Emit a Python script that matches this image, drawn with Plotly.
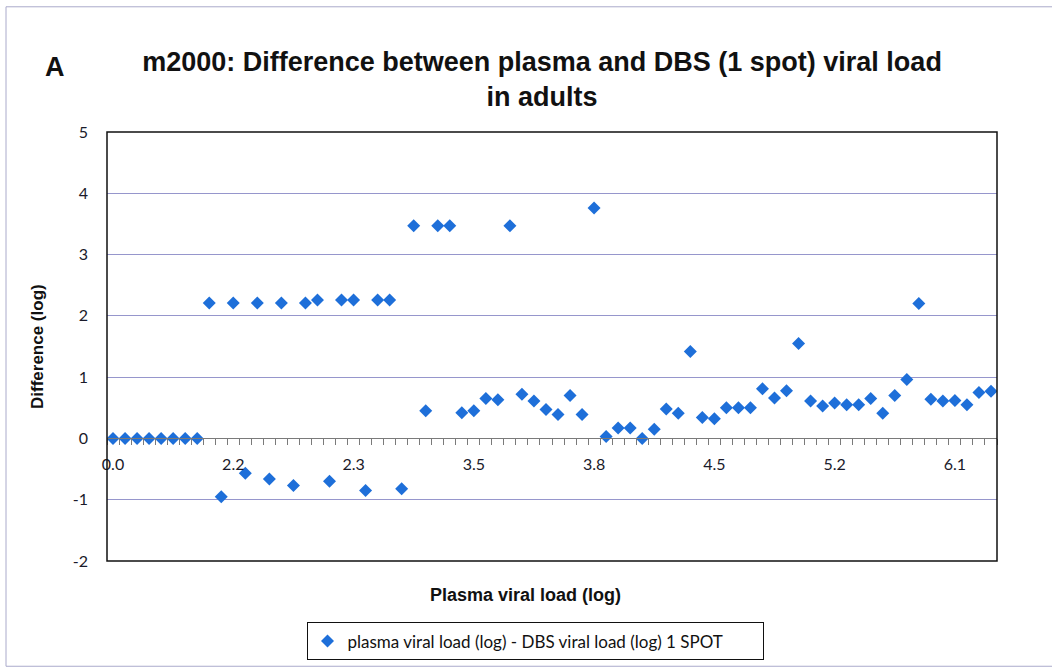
import plotly.graph_objects as go

# ---- data ----
difference_log = [
    0, 0, 0, 0, 0, 0, 0, 0,
    2.21, -0.95, 2.21, -0.57, 2.21, -0.66, 2.21, -0.77, 2.21, 2.26,
    -0.70, 2.26, 2.26, -0.85, 2.26, 2.26, -0.82, 3.47, 0.45, 3.47,
    3.47, 0.42, 0.45, 0.65, 0.63, 3.47, 0.72, 0.61, 0.47, 0.39,
    0.70, 0.39, 3.76, 0.03, 0.17, 0.17, 0.00, 0.15, 0.48, 0.41,
    1.42, 0.34, 0.32, 0.50, 0.50, 0.50, 0.81, 0.66, 0.78, 1.55,
    0.61, 0.53, 0.58, 0.55, 0.55, 0.65, 0.41, 0.70, 0.96, 2.20,
    0.64, 0.61, 0.62, 0.55, 0.75, 0.77,
]
plasma_tick_labels = ["0.0", "2.2", "2.3", "3.5", "3.8", "4.5", "5.2", "6.1"]
label_every = 10
y_ticks = [-2, -1, 0, 1, 2, 3, 4, 5]
y_tick_labels = ["-2", "-1", "0", "1", "2", "3", "4", "5"]

series_name = "plasma viral load (log) - DBS viral load (log) 1 SPOT"
title_text = "m2000: Difference between plasma and DBS (1 spot) viral load<br>in adults"

n = len(difference_log)
x_idx = list(range(n))
label_pos = [i * label_every for i in range(len(plasma_tick_labels))]
boundaries = [k - 0.5 for k in range(n + 1)]

W, H = 1052, 669
L, R, T, B = 107, 997, 131.5, 561.5
pw, ph = R - L, B - T


def px(xp):
    return (xp - L) / pw


def py(yp):
    return (B - yp) / ph


blue = "#1E6FD9"
grid = "#9696cc"

fig = go.Figure()
fig.add_trace(go.Scatter(
    x=x_idx, y=difference_log, mode="markers", name=series_name,
    marker=dict(symbol="diamond", size=10, color=blue, line=dict(width=0)),
    showlegend=True,
))

fig.update_layout(
    width=W, height=H,
    margin=dict(l=L, r=W - R, t=T, b=H - B, autoexpand=False),
    paper_bgcolor="white", plot_bgcolor="white",
    title=dict(text=title_text, x=542 / W, xanchor="center", y=1 - 71 / H, yanchor="middle",
               font=dict(family="Liberation Sans", size=27, color="#111111", weight="bold")),
    xaxis=dict(
        range=[-0.5, n - 0.5], anchor="free", position=2 / 7,
        tickmode="array", tickvals=label_pos, ticktext=plasma_tick_labels,
        ticks="", showgrid=False, zeroline=False,
        showline=True, linecolor="#7a7a7a", linewidth=1,
        ticklabelstandoff=11,
        tickfont=dict(family="Lato", size=16, color="#1a1a2a"),
        minor=dict(tickmode="array", tickvals=boundaries, ticks="outside", ticklen=6,
                   tickcolor="#7a7a7a", tickwidth=1, showgrid=False),
    ),
    yaxis=dict(
        range=[-2, 5], tickmode="array", tickvals=y_ticks, ticktext=y_tick_labels,
        ticks="", showgrid=True, gridcolor=grid, gridwidth=1, zeroline=False,
        showline=False, ticklabelstandoff=18,
        tickfont=dict(family="Lato", size=16, color="#1a1a2a"),
    ),
    legend=dict(
        x=px(535), xanchor="center", y=py(623), yanchor="top",
        orientation="h", bordercolor="#111111", borderwidth=1, bgcolor="white",
        font=dict(family="Lato", size=17, color="#111111"),
        entrywidth=410, entrywidthmode="pixels",
    ),
    showlegend=True,
)

# plot-area box and outer chart frame (open to the right, as in the reference)
fig.add_shape(type="rect", xref="paper", yref="paper", x0=0, x1=1, y0=0, y1=1,
              line=dict(color="#111111", width=1.5), layer="above")
fig.add_shape(type="line", xref="paper", yref="paper",
              x0=px(6), x1=px(1052), y0=py(6), y1=py(6),
              line=dict(color="#aaaacb", width=1), layer="below")
fig.add_shape(type="line", xref="paper", yref="paper",
              x0=px(6), x1=px(6), y0=py(6), y1=py(667),
              line=dict(color="#aaaacb", width=1), layer="below")
fig.add_shape(type="line", xref="paper", yref="paper",
              x0=px(6), x1=px(1052), y0=py(667), y1=py(667),
              line=dict(color="#aaaacb", width=1), layer="below")

fig.add_annotation(text="A", xref="paper", yref="paper", x=px(55), y=py(66),
                   showarrow=False, xanchor="center", yanchor="middle",
                   font=dict(family="Liberation Sans", size=27, color="#111111", weight="bold"))
fig.add_annotation(text="Difference (log)", xref="paper", yref="paper", x=px(38), y=py(347),
                   showarrow=False, textangle=-90, xanchor="center", yanchor="middle",
                   font=dict(family="Liberation Sans", size=17, color="#111111", weight="bold"))
fig.add_annotation(text="Plasma viral load (log)", xref="paper", yref="paper", x=px(525), y=py(596),
                   showarrow=False, xanchor="center", yanchor="middle",
                   font=dict(family="Liberation Sans", size=18, color="#111111", weight="bold"))

fig.write_html(
    "out.html",
    config={"displayModeBar": False},
    post_script="document.body.style.margin='0px';document.body.style.overflow='hidden';",
)
